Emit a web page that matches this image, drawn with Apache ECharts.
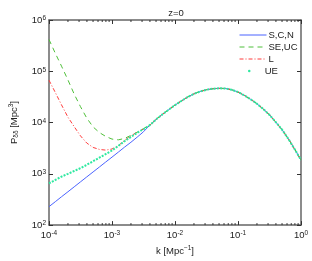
<!DOCTYPE html>
<html><head><meta charset="utf-8">
<script src="https://cdn.jsdelivr.net/npm/echarts@6/dist/echarts.min.js"></script>
<style>html,body{margin:0;padding:0;background:#fff}#c{width:312px;height:261px}</style>
</head><body><div id="c"></div>
<script>
// k grid [Mpc^-1]
const kVals = [1.0e-4,1.26e-4,1.58e-4,2.0e-4,2.51e-4,3.16e-4,3.98e-4,5.01e-4,6.31e-4,7.94e-4,
  1.0e-3,1.26e-3,1.58e-3,2.0e-3,2.51e-3,3.16e-3,
  3.98e-3,5.01e-3,6.31e-3,7.94e-3,1.0e-2,1.26e-2,1.58e-2,2.0e-2,2.51e-2,3.16e-2,3.98e-2,5.01e-2,6.31e-2,7.94e-2,
  0.1,0.126,0.158,0.2,0.251,0.316,0.398,0.501,0.631,0.794,1.0];
// low-k parts (first 16 k values) per model
const pS  = [229,286,357,447,557,697,871,1087,1358,1698,2118,2649,3311,4130,5190,6610];
const pSE = [416000,224000,126000,67600,35900,20400,12200,8220,6380,5370,4760,4600,4900,5620,6460,7590];
const pL  = [67000,38500,22100,12700,8320,5500,3980,3270,2990,2900,3050,3550,4470,5500,6530,7500];
const pUE = [650,759,881,1000,1135,1290,1500,1760,2070,2430,2850,3510,4315,5250,6310,7410];
// shared part (remaining 25 k values)
const pShared = [8900,11500,14450,17800,21900,26300,31300,36300,40300,43650,45700,46450,46200,43650,
  39350,33900,28500,23200,18400,14100,10200,7240,4790,3020,1860];
const seriesNames = ['S,C,N','SE,UC','L','UE'];
const xTicks = [1e-4,1e-3,1e-2,1e-1,1];
const yTicks = [1e2,1e3,1e4,1e5,1e6];

function build(low){ return kVals.map((k,i)=>[k, i<low.length ? low[i] : pShared[i-low.length]]); }
const xMinor=[], yMinor=[];
for(let e=-4;e<0;e++) for(let m=2;m<=9;m++) xMinor.push(m*Math.pow(10,e));
for(let e=2;e<6;e++) for(let m=2;m<=9;m++) yMinor.push(m*Math.pow(10,e));

const FONT='Liberation Sans';
const rich={b:{fontSize:9.5,fontFamily:FONT,color:'#222',lineHeight:10,verticalAlign:'bottom'},
            s:{fontSize:6.5,fontFamily:FONT,color:'#222',lineHeight:10,verticalAlign:'top'}};
function powLabel(v){const e=Math.round(Math.log10(v));return '{b|10}{s|'+e+'}';}
const axisLine={show:true,lineStyle:{color:'#666',width:1.5}};
const axisTick={show:true,inside:true,length:4,lineStyle:{color:'#333',width:1}};

const chart=echarts.init(document.getElementById('c'),null,{renderer:'canvas'});
function minorItem(isX){
  return function(params,api){
    const v=api.value(0);
    let lines=[];
    if(isX){
      const b=api.coord([v,1e2]), t=api.coord([v,1e6]);
      lines=[[b[0],b[1],b[0],b[1]-2],[t[0],t[1],t[0],t[1]+2]];
    } else {
      const l=api.coord([1e-4,v]), r=api.coord([1,v]);
      lines=[[l[0],l[1],l[0]+2,l[1]],[r[0],r[1],r[0]-2,r[1]]];
    }
    return {type:'group',children:lines.map(p=>({type:'line',shape:{x1:p[0],y1:p[1],x2:p[2],y2:p[3]},style:{stroke:'#333',lineWidth:1}}))};
  };
}
chart.setOption({
  animation:false,
  grid:{left:41,right:11,top:20,bottom:31,containLabel:false},
  title:{text:'z=0',left:171,textAlign:'center',top:3,textStyle:{fontSize:9.5,fontWeight:'normal',fontFamily:FONT,color:'#222'}},
  legend:[{data:seriesNames.slice(0,3),orient:'vertical',left:234,top:25,itemWidth:27,itemHeight:10,itemGap:2,
    itemStyle:{opacity:0},lineStyle:{width:1},
    textStyle:{fontSize:9.5,fontFamily:FONT,color:'#222',padding:[0,0,0,-3]}},
    {data:[{name:'UE',icon:'circle'}],orient:'vertical',left:243,top:61,itemWidth:27,itemHeight:2.5,
    textStyle:{fontSize:9.5,fontFamily:FONT,color:'#222',padding:[0,0,0,-3]}}],
  xAxis:[{type:'log',logBase:10,min:1e-4,max:1,axisLine,axisTick,splitLine:{show:false},
      axisLabel:{formatter:powLabel,rich,margin:5,showMinLabel:true,showMaxLabel:true},
      name:'k [Mpc{s|−1}]',nameLocation:'middle',nameGap:19,nameTextStyle:{fontSize:9.5,fontFamily:FONT,color:'#222',rich:{s:{fontSize:6.5,fontFamily:FONT,verticalAlign:'top',lineHeight:12}}}},
    {type:'log',logBase:10,min:1e-4,max:1,position:'top',axisLine,axisTick,axisLabel:{show:false},splitLine:{show:false}}],
  yAxis:[{type:'log',logBase:10,min:1e2,max:1e6,axisLine,axisTick,splitLine:{show:false},
      axisLabel:{formatter:powLabel,rich,margin:3},
      name:'P{u|δδ} [Mpc{s|3}]',nameLocation:'middle',nameGap:29,nameRotate:90,
      nameTextStyle:{fontSize:9.5,fontFamily:FONT,color:'#222',rich:{s:{fontSize:6.5,fontFamily:FONT,verticalAlign:'top',lineHeight:12},u:{fontSize:6.5,fontFamily:FONT,verticalAlign:'bottom',lineHeight:12,padding:[4,0,0,0]}}}},
    {type:'log',logBase:10,min:1e2,max:1e6,position:'right',axisLine,axisTick,axisLabel:{show:false},splitLine:{show:false}}],
  series:[
    {name:'S,C,N',type:'line',data:build(pS),symbol:'none',lineStyle:{color:'#4a63ff',width:1},itemStyle:{color:'#4a63ff'},z:2},
    {name:'SE,UC',type:'line',data:build(pSE),symbol:'none',lineStyle:{color:'#4fbf3a',width:1,type:[5,4]},itemStyle:{color:'#4fbf3a'},z:3},
    {name:'L',type:'line',data:build(pL),symbol:'none',lineStyle:{color:'#ff3b3b',width:1,type:[4,2,1,2]},itemStyle:{color:'#ff3b3b'},z:4},
    {name:'UE',type:'line',data:build(pUE),symbol:'none',lineStyle:{color:'#2ee8a0',width:2,type:[2,1.3]},itemStyle:{color:'#2ee8a0'},z:5},
    {type:'custom',renderItem:minorItem(true),data:xMinor.map(v=>[v,1e3]),clip:false,silent:true,z:6},
    {type:'custom',renderItem:minorItem(false),data:yMinor.map(v=>[1e-2,v]),clip:false,silent:true,z:6}
  ]
});
</script></body></html>
